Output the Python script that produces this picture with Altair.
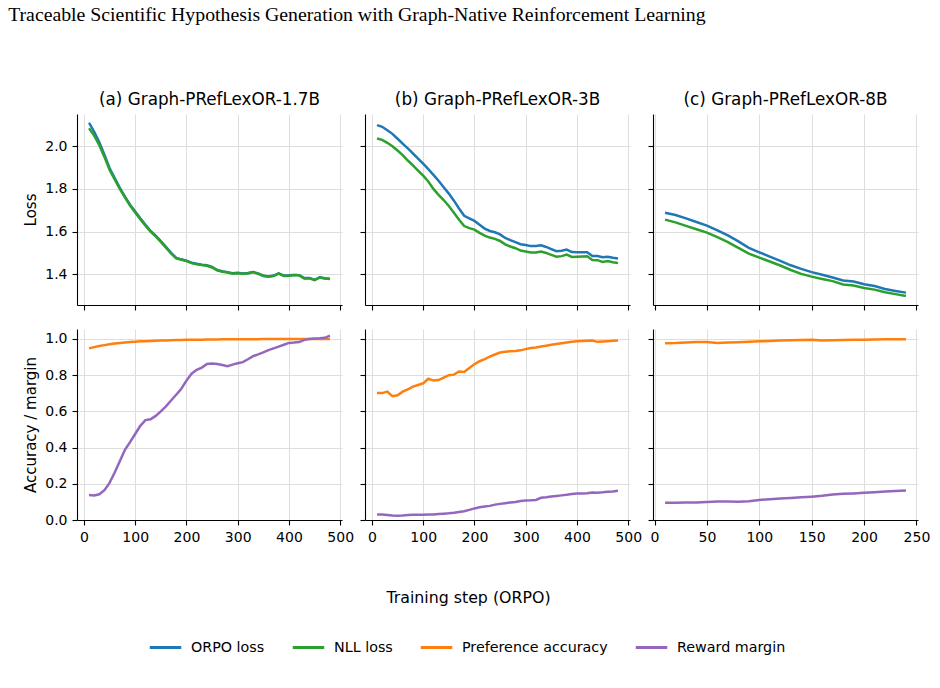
import altair as alt
import pandas as pd

# Training steps logged for each model
steps_ab = list(range(10, 490, 10))
steps_c = list(range(10, 250, 10))

models = ["(a) Graph-PRefLexOR-1.7B", "(b) Graph-PRefLexOR-3B", "(c) Graph-PRefLexOR-8B"]
series_names = ["ORPO loss", "NLL loss", "Preference accuracy", "Reward margin"]
series_colors = ["#1f77b4", "#2ca02c", "#ff7f0e", "#9467bd"]

# --- 1.7B ---
orpo_a = [2.110, 2.068, 2.018, 1.960, 1.898, 1.851, 1.805, 1.764, 1.726, 1.694,
          1.662, 1.632, 1.603, 1.581, 1.555, 1.528, 1.500, 1.477, 1.470, 1.464,
          1.454, 1.449, 1.445, 1.442, 1.434, 1.420, 1.414, 1.410, 1.405, 1.407,
          1.404, 1.406, 1.411, 1.404, 1.394, 1.390, 1.394, 1.404, 1.394, 1.395,
          1.397, 1.396, 1.382, 1.383, 1.374, 1.386, 1.381, 1.379]
nll_a = [2.084, 2.050, 2.005, 1.950, 1.890, 1.845, 1.800, 1.760, 1.722, 1.690,
         1.658, 1.628, 1.600, 1.578, 1.552, 1.525, 1.498, 1.475, 1.468, 1.462,
         1.452, 1.447, 1.443, 1.440, 1.432, 1.418, 1.412, 1.408, 1.403, 1.405,
         1.402, 1.404, 1.410, 1.402, 1.392, 1.388, 1.392, 1.403, 1.392, 1.393,
         1.396, 1.395, 1.380, 1.381, 1.372, 1.385, 1.380, 1.378]
pref_a = [0.948, 0.955, 0.961, 0.966, 0.971, 0.975, 0.978, 0.981, 0.983, 0.985,
          0.987, 0.988, 0.989, 0.990, 0.991, 0.992, 0.993, 0.994, 0.994, 0.995,
          0.995, 0.996, 0.996, 0.997, 0.997, 0.997, 0.998, 0.998, 0.998, 0.998,
          0.999, 0.999, 0.999, 0.999, 1.000, 1.000, 1.000, 1.000, 1.000, 1.000,
          1.000, 1.000, 1.000, 1.000, 1.000, 1.000, 1.000, 1.000]
reward_a = [0.138, 0.136, 0.142, 0.165, 0.205, 0.262, 0.325, 0.388, 0.430, 0.475,
            0.520, 0.552, 0.556, 0.575, 0.600, 0.628, 0.660, 0.692, 0.725, 0.770,
            0.808, 0.830, 0.842, 0.862, 0.865, 0.862, 0.856, 0.850, 0.858, 0.866,
            0.872, 0.888, 0.905, 0.915, 0.926, 0.938, 0.948, 0.958, 0.968, 0.978,
            0.980, 0.983, 0.995, 1.000, 1.003, 1.004, 1.006, 1.018]

# --- 3B ---
orpo_b = [2.099, 2.091, 2.075, 2.058, 2.035, 2.012, 1.990, 1.967, 1.942, 1.918,
          1.893, 1.866, 1.838, 1.808, 1.778, 1.745, 1.708, 1.674, 1.662, 1.650,
          1.632, 1.614, 1.603, 1.597, 1.587, 1.570, 1.560, 1.551, 1.541, 1.537,
          1.532, 1.532, 1.536, 1.528, 1.518, 1.508, 1.510, 1.516, 1.504, 1.503,
          1.503, 1.503, 1.486, 1.486, 1.480, 1.482, 1.477, 1.474]
nll_b = [2.036, 2.030, 2.016, 2.000, 1.980, 1.958, 1.933, 1.910, 1.886, 1.862,
         1.835, 1.800, 1.772, 1.748, 1.720, 1.688, 1.655, 1.626, 1.616, 1.609,
         1.594, 1.581, 1.572, 1.566, 1.556, 1.540, 1.530, 1.522, 1.511, 1.507,
         1.502, 1.502, 1.507, 1.500, 1.491, 1.482, 1.485, 1.492, 1.481, 1.482,
         1.483, 1.484, 1.467, 1.466, 1.458, 1.462, 1.456, 1.453]
pref_b = [0.701, 0.701, 0.709, 0.684, 0.689, 0.709, 0.722, 0.737, 0.746, 0.755,
          0.780, 0.770, 0.773, 0.786, 0.800, 0.803, 0.820, 0.818, 0.840, 0.860,
          0.877, 0.889, 0.902, 0.914, 0.925, 0.929, 0.932, 0.934, 0.937, 0.944,
          0.950, 0.953, 0.958, 0.963, 0.968, 0.972, 0.976, 0.980, 0.984, 0.987,
          0.989, 0.990, 0.991, 0.984, 0.986, 0.988, 0.990, 0.992]
reward_b = [0.031, 0.030, 0.028, 0.025, 0.024, 0.025, 0.027, 0.029, 0.029, 0.029,
            0.030, 0.031, 0.033, 0.035, 0.037, 0.040, 0.044, 0.048, 0.056, 0.064,
            0.070, 0.074, 0.078, 0.085, 0.089, 0.093, 0.097, 0.100, 0.105, 0.108,
            0.109, 0.111, 0.123, 0.126, 0.130, 0.133, 0.136, 0.139, 0.143, 0.146,
            0.147, 0.148, 0.152, 0.151, 0.153, 0.156, 0.158, 0.161]

# --- 8B ---
orpo_c = [1.688, 1.678, 1.662, 1.645, 1.628, 1.606, 1.582, 1.554, 1.524, 1.503,
          1.483, 1.463, 1.442, 1.425, 1.410, 1.398, 1.385, 1.371, 1.366, 1.353,
          1.345, 1.331, 1.322, 1.314]
nll_c = [1.656, 1.643, 1.627, 1.611, 1.595, 1.574, 1.551, 1.524, 1.497, 1.478,
         1.460, 1.441, 1.420, 1.402, 1.389, 1.378, 1.368, 1.352, 1.347, 1.336,
         1.328, 1.316, 1.307, 1.298]
pref_c = [0.976, 0.977, 0.980, 0.983, 0.983, 0.978, 0.981, 0.982, 0.984, 0.987,
          0.989, 0.991, 0.993, 0.994, 0.995, 0.992, 0.993, 0.994, 0.995, 0.996,
          0.997, 0.998, 0.998, 0.999]
reward_c = [0.095, 0.095, 0.096, 0.097, 0.099, 0.102, 0.102, 0.101, 0.104, 0.111,
            0.115, 0.119, 0.122, 0.125, 0.129, 0.134, 0.141, 0.145, 0.147, 0.150,
            0.153, 0.157, 0.160, 0.163]

loss_ticks = [1.4, 1.6, 1.8, 2.0]
acc_ticks = [0.0, 0.2, 0.4, 0.6, 0.8, 1.0]

FONT = "DejaVu Sans"


def table(steps, named):
    rows = []
    for name, vals in named:
        for s, v in zip(steps, vals):
            rows.append({"step": s, "series": name, "value": v})
    return pd.DataFrame(rows)


color = alt.Color(
    "series:N",
    scale=alt.Scale(domain=series_names, range=series_colors),
    legend=alt.Legend(
        title=None,
        orient="none",
        direction="horizontal",
        legendX=71,
        legendY=516,
        symbolType="stroke",
        symbolSize=990,
        symbolStrokeWidth=3,
        labelFont=FONT,
        labelFontSize=14.3,
        labelColor="black",
        labelOffset=8,
        columnPadding=21,
        values=series_names,
    ),
)


def panel(df, names, x_dom, x_ticks, y_dom, y_ticks, x_labels, y_labels,
          title=None, y_title=None, x_title=None, x_title_pos=None):
    x_axis = dict(values=x_ticks, labels=x_labels, title=x_title, format="d")
    if x_title_pos is not None:
        x_axis.update(titleX=x_title_pos[0], titleY=x_title_pos[1],
                      titleFontSize=15.8, titleFont=FONT, titleFontWeight="normal",
                      titleColor="black", titleBaseline="middle", titleAlign="center")
    y_axis = dict(values=y_ticks, labels=y_labels, title=y_title, format=".1f")
    layers = []
    for name in names:
        layers.append(
            alt.Chart(df)
            .transform_filter(alt.datum.series == name)
            .mark_line(strokeWidth=2.5, clip=False)
            .encode(
                x=alt.X("step:Q", scale=alt.Scale(domain=x_dom, nice=False, zero=False),
                        axis=alt.Axis(**x_axis)),
                y=alt.Y("value:Q", scale=alt.Scale(domain=y_dom, nice=False, zero=False),
                        axis=alt.Axis(**y_axis)),
                color=color,
            )
        )
    ch = alt.layer(*layers).properties(width=265, height=191)
    if title:
        ch = ch.properties(title=alt.TitleParams(title, font=FONT, fontSize=16.8,
                                                  fontWeight="normal", color="black",
                                                  offset=5.5))
    return ch


top_names = ["ORPO loss", "NLL loss"]
bot_names = ["Preference accuracy", "Reward margin"]

df_a = table(steps_ab, [("ORPO loss", orpo_a), ("NLL loss", nll_a),
                        ("Preference accuracy", pref_a), ("Reward margin", reward_a)])
df_b = table(steps_ab, [("ORPO loss", orpo_b), ("NLL loss", nll_b),
                        ("Preference accuracy", pref_b), ("Reward margin", reward_b)])
df_c = table(steps_c, [("ORPO loss", orpo_c), ("NLL loss", nll_c),
                       ("Preference accuracy", pref_c), ("Reward margin", reward_c)])

dom_ab = [-13.5, 503.5]
dom_c = [-1.5, 251.5]
ticks_ab = [0, 100, 200, 300, 400, 500]
ticks_c = [0, 50, 100, 150, 200, 250]
loss_dom = [1.256, 2.151]
acc_dom = [0.0, 1.055]

panels = [
    panel(df_a, top_names, dom_ab, ticks_ab, loss_dom, loss_ticks, False, True,
          title=models[0], y_title="Loss"),
    panel(df_b, top_names, dom_ab, ticks_ab, loss_dom, loss_ticks, False, False,
          title=models[1]),
    panel(df_c, top_names, dom_c, ticks_c, loss_dom, loss_ticks, False, False,
          title=models[2]),
    panel(df_a, bot_names, dom_ab, ticks_ab, acc_dom, acc_ticks, True, True,
          y_title="Accuracy / margin"),
    panel(df_b, bot_names, dom_ab, ticks_ab, acc_dom, acc_ticks, True, False,
          x_title="Training step (ORPO)", x_title_pos=(103, 77)),
    panel(df_c, bot_names, dom_c, ticks_c, acc_dom, acc_ticks, True, False),
]

chart = (
    alt.concat(*panels, columns=3, spacing=alt.RowColnumber(row=24, column=23),
               bounds="flush")
    .properties(
        title=alt.TitleParams(
            "Traceable Scientific Hypothesis Generation with Graph-Native Reinforcement Learning",
            anchor="start", frame="bounds", font="Liberation Serif", fontSize=19.8,
            fontWeight="normal", color="black", offset=67, dx=-15.6,
        ),
        padding={"left": 8, "top": 4, "right": 10, "bottom": 10},
        background="white",
    )
    .configure_view(stroke=None)
    .configure_axis(
        labelFont=FONT, labelFontSize=14, labelColor="black",
        titleFont=FONT, titleFontSize=15, titleFontWeight="normal", titleColor="black",
        titlePadding=6, tickColor="black", tickSize=5, tickWidth=1.1,
        domainColor="black", domainWidth=1.1, gridColor="#dedede", gridWidth=1,
        labelPadding=5,
    )
)

chart.save("out.html", embed_options={"renderer": "svg", "actions": False})
